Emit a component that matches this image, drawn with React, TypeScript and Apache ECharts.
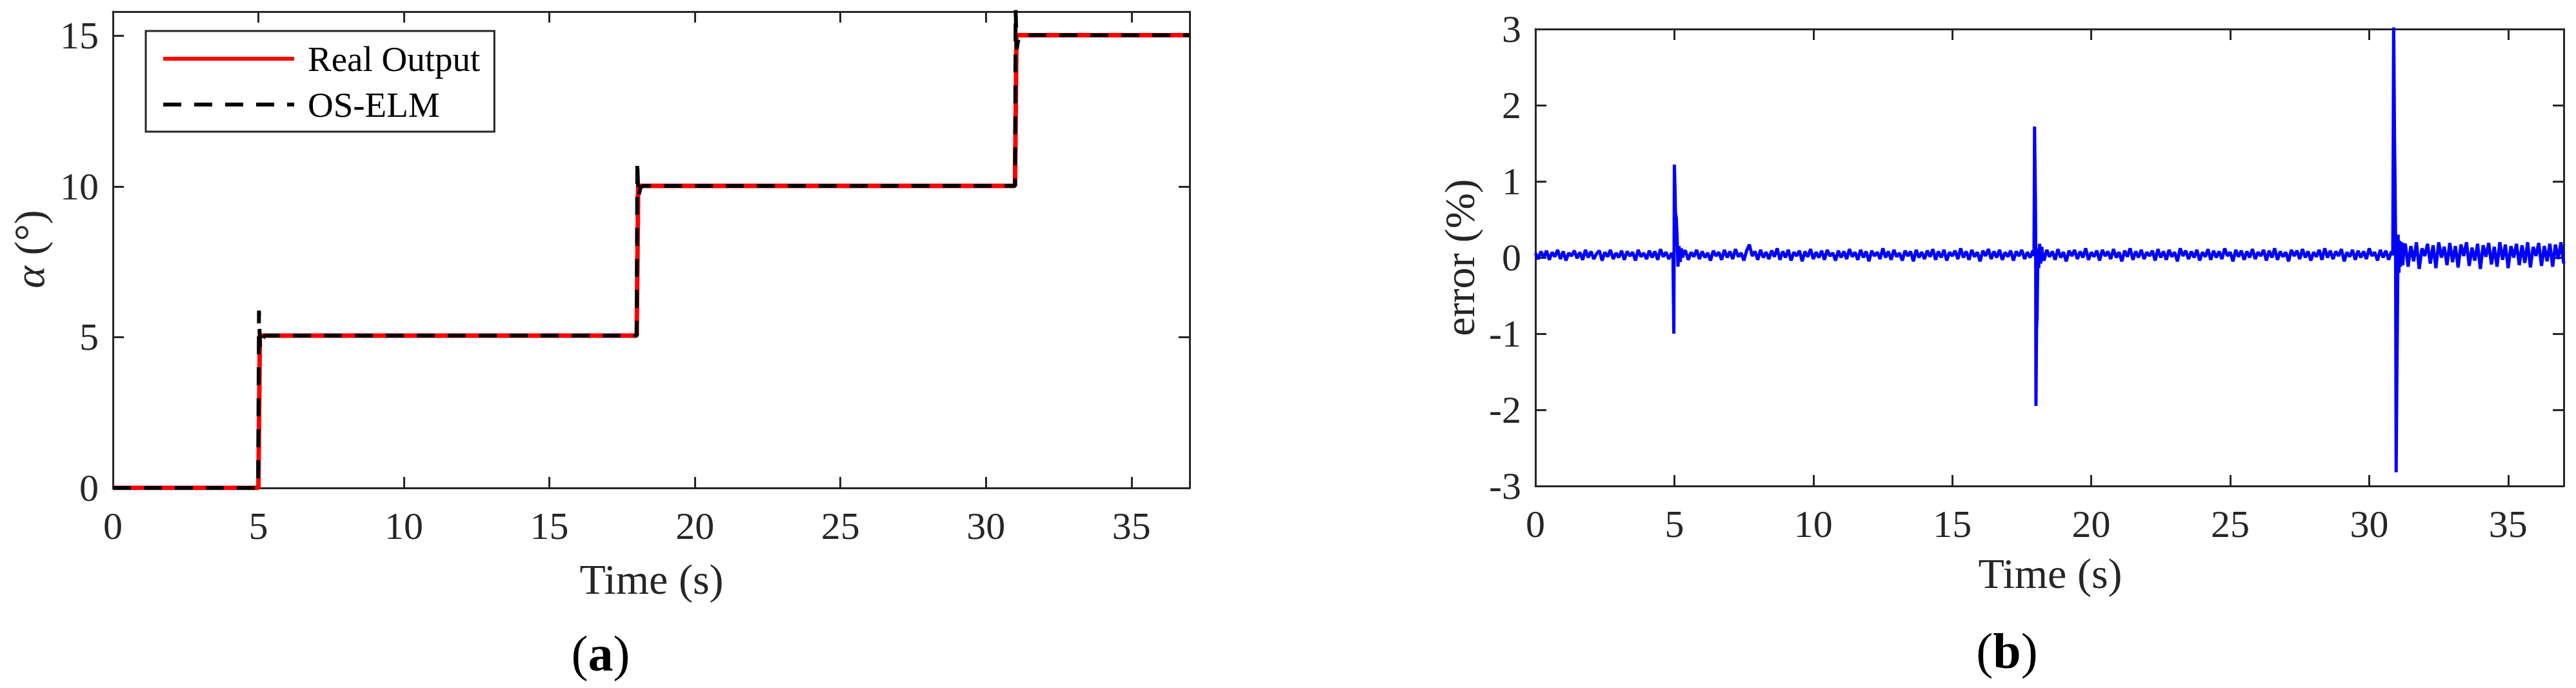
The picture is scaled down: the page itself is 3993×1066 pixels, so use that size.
import React, { useEffect, useRef } from 'react';
import * as echarts from 'echarts';

const FONT = '"Liberation Serif", "Times New Roman", Times, serif';
const AXIS_COLOR = '#262626';

// ---------- (a) step response ----------
const seriesNames = ['Real Output', 'OS-ELM'];
const realOutput: [number, number][] = [
  [0, 0], [5.0, 0], [5.05, 5.05], [18.0, 5.05], [18.05, 10.02], [31.0, 10.02], [31.05, 15.02], [37, 15.02],
];
const osElm: [number, number][] = [
  [0, 0], [4.99, 0], [5.02, 5.88], [5.04, 5.2], [5.06, 4.62], [5.09, 4.75], [5.14, 4.95], [5.22, 5.05],
  [18.0, 5.05], [18.02, 10.85], [18.04, 10.2], [18.06, 9.65], [18.09, 9.8], [18.14, 9.98], [18.22, 10.02],
  [31.0, 10.02], [31.02, 15.85], [31.04, 15.25], [31.06, 14.55], [31.09, 14.75], [31.14, 14.95], [31.22, 15.02],
  [37, 15.02],
];

// ---------- (b) error ----------
const errSeg1Start = 0.0;
const errSeg1 = [
  0.06, -0.02, 0.08, 0.00, 0.09, -0.03, 0.07, 0.01, 0.10, -0.02,
  0.08, -0.04, 0.06, 0.02, 0.09, -0.01, 0.07, -0.03, 0.10, 0.00,
  0.08, -0.02, 0.05, 0.09, -0.04, 0.07, 0.01, 0.10, -0.02, 0.06,
  0.00, 0.09, -0.03, 0.08, 0.02, 0.07, -0.04, 0.10, 0.01, 0.06,
  -0.02, 0.09, 0.00, 0.08, -0.03, 0.11, 0.01, 0.07, -0.02, 0.06,
];
const errSpike5: [number, number][] = [
  [4.95, 0.02], [4.98, -1.0], [5.0, 1.22], [5.02, 0.95], [5.04, 0.58], [5.07, 0.52], [5.1, 0.25],
  [5.13, -0.12], [5.17, 0.15], [5.21, -0.06], [5.25, 0.12], [5.3, 0.0], [5.35, 0.08],
];
const errSeg2Start = 5.4;
const errSeg2 = [
  0.09, -0.03, 0.07, 0.01, 0.10, -0.02, 0.08, 0.00, 0.06, -0.04,
  0.09, 0.02, 0.07, -0.03, 0.10, 0.00, 0.08, -0.02, 0.11, 0.01,
  0.06, -0.04, 0.09, 0.17, 0.02, 0.08, -0.03, 0.10, 0.00, 0.07,
  -0.02, 0.09, 0.01, 0.12, -0.03, 0.08, 0.00, 0.10, -0.04, 0.07,
  0.02, 0.09, -0.05, 0.08, 0.01, 0.11, -0.02, 0.07, 0.00, 0.09,
  -0.03, 0.10, 0.02, 0.06, -0.04, 0.09, 0.00, 0.08, -0.02, 0.11,
  0.01, 0.07, -0.03, 0.10, 0.00, 0.08, -0.05, 0.09, 0.02, 0.07,
  -0.02, 0.12, 0.00, 0.08, -0.03, 0.10, 0.01, 0.06, -0.04, 0.09,
  0.02, 0.08, -0.05, 0.10, 0.00, 0.07, -0.02, 0.09, 0.01, 0.11,
  -0.03, 0.08, 0.00, 0.10, -0.04, 0.07, 0.02, 0.09, -0.02, 0.12,
  0.00, 0.08, -0.03, 0.10, 0.01, 0.07, -0.05, 0.09, 0.02, 0.11,
  -0.02, 0.08, 0.00, 0.10, -0.03, 0.07, 0.01, 0.09, -0.04, 0.08,
  0.02, 0.10, -0.02, 0.07, 0.00, 0.09,
];
const errSpike18: [number, number][] = [
  [17.94, 0.02], [17.96, 1.72], [17.98, 1.07], [17.99, 0.78], [18.0, 0.3], [18.01, -1.95], [18.03, -0.95], [18.05, -0.78],
  [18.08, 0.12], [18.11, -0.14], [18.14, 0.18], [18.18, -0.08], [18.22, 0.14], [18.26, 0.0],
];
const errSeg3Start = 18.3;
const errSeg3 = [
  -0.04, 0.10, 0.01, 0.08, -0.03, 0.11, 0.00, 0.07, -0.05, 0.09,
  0.02, 0.10, -0.02, 0.08, 0.00, 0.12, -0.03, 0.07, 0.01, 0.09,
  -0.04, 0.10, 0.02, 0.08, -0.02, 0.11, 0.00, 0.07, -0.05, 0.09,
  0.01, 0.12, -0.03, 0.08, 0.00, 0.10, -0.02, 0.07, 0.02, 0.09,
  -0.04, 0.11, 0.00, 0.08, -0.03, 0.10, 0.01, 0.07, -0.05, 0.12,
  0.02, 0.09, -0.02, 0.08, 0.00, 0.10, -0.04, 0.07, 0.01, 0.11,
  -0.03, 0.09, 0.00, 0.08, -0.02, 0.12, 0.02, 0.07, -0.05, 0.10,
  0.01, 0.09, -0.03, 0.08, 0.00, 0.11, -0.02, 0.07, 0.02, 0.10,
  -0.04, 0.09, 0.00, 0.12, -0.03, 0.08, 0.01, 0.07, -0.05, 0.10,
  0.02, 0.09, -0.02, 0.11, 0.00, 0.08, -0.04, 0.07, 0.01, 0.10,
  -0.03, 0.12, 0.00, 0.09, -0.02, 0.08, 0.02, 0.11, -0.05, 0.07,
  0.01, 0.10, -0.03, 0.09, 0.00, 0.08, -0.02, 0.12, 0.02, 0.07,
  -0.04, 0.10, 0.00, 0.09, -0.03, 0.08,
];
const errSpike31: [number, number][] = [
  [30.85, 0.03], [30.88, 3.1], [30.91, 1.6], [30.93, 0.98], [30.95, 0.2], [30.97, -2.82], [30.99, -1.8], [31.01, -0.99],
  [31.04, 0.3], [31.07, -0.2], [31.1, 0.22], [31.13, -0.12], [31.17, 0.2], [31.21, -0.1], [31.25, 0.15],
];
const errSeg4Start = 31.3;
const errSeg4 = [
  0.18, -0.12, 0.15, -0.05, 0.2, -0.15, 0.12, 0.02, 0.18, -0.08,
  0.16, -0.14, 0.2, 0.0, 0.14, -0.1, 0.19, -0.06, 0.15, -0.13,
  0.17, 0.02, 0.2, -0.11, 0.13, -0.04, 0.18, -0.15, 0.16, 0.01,
  0.19, -0.09, 0.14, -0.12, 0.2, -0.03, 0.17, -0.14, 0.15, 0.0,
  0.18, -0.1, 0.16, -0.07, 0.2, -0.13, 0.14, 0.02, 0.19, -0.11,
  0.15, -0.05, 0.18, -0.12, 0.17, -0.02, 0.2, -0.08,
];
const SAMPLE_STEP = 0.1;

const seg = (start: number, vals: number[]): [number, number][] =>
  vals.map((v, i) => [Number((start + i * SAMPLE_STEP).toFixed(2)), v]);

const errorData: [number, number][] = [
  ...seg(errSeg1Start, errSeg1), ...errSpike5,
  ...seg(errSeg2Start, errSeg2), ...errSpike18,
  ...seg(errSeg3Start, errSeg3), ...errSpike31,
  ...seg(errSeg4Start, errSeg4),
];

const timeLabel = 'Time (s)';

function axisCommon(extra: any) {
  return {
    type: 'value',
    splitLine: { show: false },
    axisLine: { show: true, onZero: false, lineStyle: { color: AXIS_COLOR, width: 3 } },
    axisTick: { show: true, inside: true, length: 17, lineStyle: { color: AXIS_COLOR, width: 3 } },
    ...extra,
  };
}

const tickLabel = (margin: number, extra: any = {}) => ({
  show: true, color: AXIS_COLOR, fontFamily: FONT, fontSize: 60, margin, ...extra,
});

export default function App() {
  const ref = useRef<HTMLDivElement>(null);
  useEffect(() => {
    document.body.style.margin = '0';
    if (!ref.current) return;
    const chart = echarts.init(ref.current, null, { renderer: 'svg' });
    const xBase = { min: 0, max: 37, interval: 5 };
    const option: any = {
      animation: false,
      backgroundColor: '#ffffff',
      grid: [
        { left: 175, right: 2149, top: 18, bottom: 310 },
        { left: 2380, right: 19, top: 45, bottom: 313 },
      ],
      xAxis: [
        axisCommon({ gridIndex: 0, position: 'bottom', ...xBase, axisLabel: tickLabel(29, { showMaxLabel: false }) }),
        axisCommon({ gridIndex: 0, position: 'top', ...xBase, axisLabel: { show: false } }),
        axisCommon({ gridIndex: 1, position: 'bottom', ...xBase, axisLabel: tickLabel(29, { showMaxLabel: false }) }),
        axisCommon({ gridIndex: 1, position: 'top', ...xBase, axisLabel: { show: false } }),
      ],
      yAxis: [
        axisCommon({ gridIndex: 0, position: 'left', min: 0, max: 15.8, interval: 5, axisLabel: tickLabel(22, { showMaxLabel: false }) }),
        axisCommon({ gridIndex: 0, position: 'right', min: 0, max: 15.8, interval: 5, axisLabel: { show: false } }),
        axisCommon({ gridIndex: 1, position: 'left', min: -3, max: 3, interval: 1, axisLabel: tickLabel(22) }),
        axisCommon({ gridIndex: 1, position: 'right', min: -3, max: 3, interval: 1, axisLabel: { show: false } }),
      ],
      legend: {
        left: 226, top: 48, orient: 'vertical',
        data: seriesNames,
        itemWidth: 203, itemHeight: 60, itemGap: 11,
        padding: [13, 22, 12, 24],
        borderColor: AXIS_COLOR, borderWidth: 3, backgroundColor: '#ffffff',
        selectedMode: false,
        itemStyle: { opacity: 0 },
        lineStyle: { width: 6 },
        textStyle: { fontSize: 55, fontFamily: FONT, color: '#000', lineHeight: 60, padding: [0, 0, 0, 16] },
      },
      series: [
        {
          name: seriesNames[0], type: 'line', xAxisIndex: 0, yAxisIndex: 0,
          data: realOutput, symbol: 'none', clip: true,
          lineStyle: { color: '#ff0000', width: 7 }, itemStyle: { color: '#ff0000' },
        },
        {
          name: seriesNames[1], type: 'line', xAxisIndex: 0, yAxisIndex: 0,
          data: osElm, symbol: 'none', clip: true,
          lineStyle: { color: '#000000', width: 6, type: [28, 20] }, itemStyle: { color: '#000000' },
        },
        {
          name: 'error', type: 'line', xAxisIndex: 2, yAxisIndex: 2,
          data: errorData, symbol: 'none', clip: true,
          lineStyle: { color: '#0000ff', width: 5 }, itemStyle: { color: '#0000ff' },
        },
      ],
      graphic: [
        { type: 'text', x: 1010, y: 897, style: { text: timeLabel, fontSize: 66, fontFamily: FONT, fill: AXIS_COLOR, align: 'center', verticalAlign: 'middle' } },
        { type: 'text', x: 3178, y: 888, style: { text: timeLabel, fontSize: 66, fontFamily: FONT, fill: AXIS_COLOR, align: 'center', verticalAlign: 'middle' } },
        {
          type: 'text', x: 45, y: 386, rotation: Math.PI / 2,
          style: {
            text: '{i|α} (°)', fontSize: 66, fontFamily: FONT, fill: AXIS_COLOR, align: 'center', verticalAlign: 'middle',
            rich: { i: { fontStyle: 'italic', fontSize: 66, fontFamily: FONT, fill: AXIS_COLOR } },
          },
        },
        {
          type: 'text', x: 2262, y: 399, rotation: Math.PI / 2,
          style: { text: 'error (%)', fontSize: 66, fontFamily: FONT, fill: AXIS_COLOR, align: 'center', verticalAlign: 'middle' },
        },
        {
          type: 'text', x: 931, y: 1012,
          style: {
            text: '({b|a})', fontSize: 78, fontFamily: FONT, fill: '#000', align: 'center', verticalAlign: 'middle',
            rich: { b: { fontWeight: 'bold', fontSize: 78, fontFamily: FONT, fill: '#000' } },
          },
        },
        {
          type: 'text', x: 3111, y: 1008,
          style: {
            text: '({b|b})', fontSize: 78, fontFamily: FONT, fill: '#000', align: 'center', verticalAlign: 'middle',
            rich: { b: { fontWeight: 'bold', fontSize: 78, fontFamily: FONT, fill: '#000' } },
          },
        },
      ],
    };
    chart.setOption(option);
    return () => chart.dispose();
  }, []);
  return <div ref={ref} style={{ width: 3993, height: 1066 }} />;
}
